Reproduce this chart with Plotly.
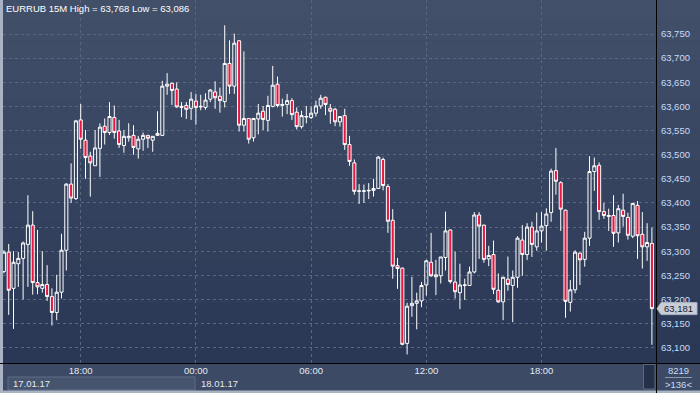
import plotly.graph_objects as go
import pandas as pd

# ---------------- data ----------------
symbol = "EURRUB"
timeframe = "15M"
start_time = "2017-01-17 14:00"
date_labels = ["17.01.17", "18.01.17"]
tick_times = ["2017-01-17 18:00", "2017-01-18 00:00", "2017-01-18 06:00",
              "2017-01-18 12:00", "2017-01-18 18:00"]
tick_text = ["18:00", "00:00", "06:00", "12:00", "18:00"]
price_ticks = list(range(63100, 63751, 50))
bar_total_label = "8219"
visible_bars_label = ">136<"

opens = [63258, 63298, 63223, 63274, 63285, 63314, 63354, 63235, 63223, 63231,
         63206, 63173, 63215, 63302, 63439, 63409, 63572, 63530, 63497, 63477,
         63513, 63559, 63546, 63577, 63549, 63519, 63535, 63540, 63512, 63532,
         63540, 63530, 63540, 63540, 63642, 63648, 63636, 63598, 63602, 63596,
         63611, 63599, 63598, 63615, 63630, 63621, 63610, 63689, 63642, 63736,
         63561, 63575, 63535, 63574, 63590, 63571, 63600, 63646, 63602, 63604,
         63612, 63588, 63558, 63578, 63577, 63586, 63601, 63619, 63596, 63594,
         63568, 63581, 63521, 63483, 63424, 63424, 63425, 63426, 63430, 63490,
         63434, 63364, 63270, 63265, 63109, 63187, 63192, 63197, 63230, 63277,
         63247, 63249, 63287, 63344, 63236, 63214, 63229, 63229, 63257, 63375,
         63354, 63284, 63293, 63219, 63195, 63242, 63229, 63246, 63323, 63293,
         63350, 63309, 63342, 63353, 63380, 63467, 63442, 63385, 63194, 63220,
         63296, 63283, 63327, 63465, 63478, 63382, 63372, 63374, 63338, 63385,
         63370, 63331, 63395, 63335, 63309, 63316]
highs = [63302, 63315, 63300, 63298, 63320, 63416, 63383, 63344, 63300, 63271,
         63223, 63251, 63336, 63441, 63482, 63572, 63605, 63551, 63506, 63551,
         63565, 63575, 63609, 63602, 63572, 63551, 63565, 63561, 63539, 63546,
         63541, 63538, 63590, 63653, 63669, 63649, 63650, 63609, 63609, 63630,
         63626, 63624, 63627, 63636, 63652, 63639, 63768, 63737, 63751, 63737,
         63714, 63576, 63576, 63605, 63601, 63622, 63684, 63662, 63616, 63626,
         63617, 63598, 63591, 63601, 63600, 63612, 63624, 63620, 63605, 63597,
         63580, 63595, 63539, 63490, 63439, 63438, 63441, 63450, 63497, 63494,
         63439, 63387, 63286, 63266, 63193, 63247, 63214, 63236, 63282, 63338,
         63282, 63288, 63382, 63345, 63299, 63274, 63243, 63268, 63381, 63381,
         63355, 63311, 63322, 63254, 63247, 63289, 63260, 63331, 63354, 63358,
         63361, 63380, 63381, 63389, 63471, 63514, 63445, 63386, 63240, 63302,
         63297, 63340, 63497, 63494, 63484, 63400, 63388, 63416, 63396, 63419,
         63380, 63400, 63404, 63381, 63358, 63349]
lows = [63254, 63168, 63139, 63226, 63200, 63226, 63210, 63211, 63214, 63197,
        63146, 63157, 63202, 63260, 63400, 63406, 63512, 63450, 63413, 63477,
        63454, 63521, 63541, 63533, 63514, 63504, 63527, 63500, 63492, 63508,
        63514, 63506, 63539, 63539, 63624, 63603, 63597, 63578, 63574, 63572,
        63562, 63592, 63593, 63609, 63595, 63587, 63598, 63626, 63626, 63548,
        63548, 63523, 63527, 63542, 63551, 63548, 63598, 63598, 63579, 63584,
        63572, 63552, 63554, 63565, 63574, 63579, 63595, 63582, 63564, 63559,
        63558, 63510, 63477, 63417, 63398, 63400, 63408, 63413, 63429, 63426,
        63338, 63243, 63222, 63105, 63086, 63164, 63138, 63184, 63208, 63247,
        63209, 63233, 63260, 63233, 63202, 63180, 63199, 63228, 63254, 63284,
        63276, 63269, 63211, 63193, 63157, 63218, 63153, 63224, 63249, 63282,
        63288, 63301, 63318, 63301, 63361, 63417, 63342, 63162, 63175, 63213,
        63230, 63268, 63311, 63425, 63365, 63367, 63342, 63309, 63318, 63351,
        63324, 63327, 63284, 63264, 63280, 63106]
closes = [63298, 63219, 63277, 63285, 63317, 63354, 63235, 63226, 63231, 63206,
          63173, 63215, 63302, 63439, 63410, 63570, 63532, 63494, 63483, 63514,
          63557, 63546, 63579, 63546, 63521, 63538, 63538, 63515, 63532, 63540,
          63534, 63538, 63544, 63642, 63646, 63633, 63599, 63600, 63594, 63615,
          63598, 63600, 63613, 63634, 63618, 63612, 63689, 63642, 63731, 63561,
          63575, 63532, 63575, 63586, 63573, 63602, 63644, 63602, 63604, 63612,
          63583, 63558, 63581, 63579, 63586, 63601, 63617, 63604, 63590, 63568,
          63579, 63521, 63486, 63424, 63425, 63425, 63426, 63430, 63495, 63436,
          63362, 63269, 63264, 63107, 63186, 63192, 63197, 63229, 63280, 63249,
          63251, 63288, 63342, 63237, 63216, 63230, 63230, 63257, 63375, 63352,
          63283, 63291, 63221, 63195, 63246, 63231, 63246, 63327, 63293, 63350,
          63314, 63342, 63352, 63377, 63466, 63445, 63387, 63196, 63220, 63298,
          63282, 63327, 63465, 63477, 63382, 63374, 63374, 63337, 63388, 63372,
          63333, 63399, 63332, 63309, 63318, 63181]

times = pd.date_range(start_time, periods=len(opens), freq="15min")

# ---------------- geometry helpers (layout only) ----------------
W, H = 700, 393
ML, MR, MT, MB = 3, 44, 0, 30
PW = W - ML - MR
PH = H - MT - MB


def xp(px):
    return (px - ML) / PW


def yp(py):
    return (MT + PH - py) / PH


def fmt(v):
    return f"{v:,}"


FONT = "Liberation Sans, Arial, sans-serif"
shapes = []

# stepped vertical gradient background
top_c = (66, 80, 106)
bot_c = (41, 55, 85)
nb = 18
for i in range(nb):
    t = (i + 0.5) / nb
    c = tuple(round(top_c[k] + (bot_c[k] - top_c[k]) * t) for k in range(3))
    shapes.append(dict(type="rect", xref="paper", yref="paper",
                       x0=xp(0), x1=xp(W), y0=yp((i + 1) * PH / nb), y1=yp(i * PH / nb),
                       fillcolor=f"rgb{c}", line_width=0, layer="below"))
# bottom time panel
shapes.append(dict(type="rect", xref="paper", yref="paper", x0=xp(0), x1=xp(W),
                   y0=yp(H), y1=yp(PH), fillcolor="#3c4a65", line_width=0, layer="below"))
# date box
shapes.append(dict(type="rect", xref="paper", yref="paper", x0=xp(8), x1=xp(195),
                   y0=yp(390), y1=yp(377), fillcolor="#46546e",
                   line=dict(color="#5f6d86", width=1), layer="below"))
# scroll thumb
shapes.append(dict(type="rect", xref="paper", yref="paper", x0=xp(643.5), x1=xp(655),
                   y0=yp(389), y1=yp(364.5), fillcolor="#243149",
                   line=dict(color="#5a6880", width=1), layer="below"))
# frame strips
shapes.append(dict(type="rect", xref="paper", yref="paper", x0=xp(0), x1=xp(3),
                   y0=yp(H), y1=yp(0), fillcolor="#a9b3c4", line_width=0, layer="above"))
shapes.append(dict(type="rect", xref="paper", yref="paper", x0=xp(0), x1=xp(W),
                   y0=yp(H), y1=yp(390.5), fillcolor="#a9b3c4", line_width=0, layer="above"))
# black axis lines
shapes.append(dict(type="line", xref="paper", yref="paper", x0=xp(0), x1=xp(W),
                   y0=yp(363.5), y1=yp(363.5), line=dict(color="#000000", width=1), layer="above"))
shapes.append(dict(type="line", xref="paper", yref="paper", x0=xp(656.5), x1=xp(656.5),
                   y0=yp(H), y1=yp(0), line=dict(color="#000000", width=1), layer="above"))
# underline under bar count
shapes.append(dict(type="line", xref="paper", yref="paper", x0=xp(665), x1=xp(692),
                   y0=yp(377.5), y1=yp(377.5), line=dict(color="#8a97ad", width=1), layer="above"))

# last price tag
last = closes[-1]
u = 50 / 24.13  # price units per pixel
tag_path = (f"M {xp(657)},{last} L {xp(661)},{last + 6 * u} L {xp(697)},{last + 6 * u} "
            f"L {xp(697)},{last - 6 * u} L {xp(661)},{last - 6 * u} Z")
shapes.append(dict(type="path", xref="paper", yref="y", path=tag_path,
                   fillcolor="#c8cdd6", line=dict(color="#aab2c0", width=1), layer="above"))

annotations = [
    dict(text=f"{symbol} {timeframe} High = {fmt(max(highs))} Low = {fmt(min(lows))}",
         xref="paper", yref="paper", x=xp(4), y=yp(8), xanchor="left", yanchor="middle",
         showarrow=False, font=dict(family=FONT, size=9.5, color="#ffffff")),
    dict(text=date_labels[0], xref="paper", yref="paper", x=xp(11), y=yp(383.5),
         xanchor="left", yanchor="middle", showarrow=False,
         font=dict(family=FONT, size=9.5, color="#e4e9f0")),
    dict(text=date_labels[1], xref="paper", yref="paper", x=xp(199), y=yp(383.5),
         xanchor="left", yanchor="middle", showarrow=False,
         font=dict(family=FONT, size=9.5, color="#e4e9f0")),
    dict(text=bar_total_label, xref="paper", yref="paper", x=xp(678.5), y=yp(370.5),
         xanchor="center", yanchor="middle", showarrow=False,
         font=dict(family=FONT, size=9.5, color="#c8dcf8")),
    dict(text=visible_bars_label, xref="paper", yref="paper", x=xp(678.5), y=yp(384.5),
         xanchor="center", yanchor="middle", showarrow=False,
         font=dict(family=FONT, size=9.5, color="#c8dcf8")),
    dict(text=fmt(last), xref="paper", yref="y", x=xp(678.5), y=last,
         xanchor="center", yanchor="middle", showarrow=False,
         font=dict(family=FONT, size=9.5, color="#18202e")),
]

fig = go.Figure(go.Candlestick(
    x=times, open=opens, high=highs, low=lows, close=closes,
    increasing=dict(line=dict(color="#ffffff", width=1), fillcolor="rgba(0,0,0,0)"),
    decreasing=dict(line=dict(color="#ffffff", width=1), fillcolor="#e8173f"),
    whiskerwidth=0, hoverinfo="skip", showlegend=False,
))

fig.update_layout(
    width=W, height=H,
    margin=dict(l=ML, r=MR, t=MT, b=MB, pad=0),
    paper_bgcolor="#33415e", plot_bgcolor="rgba(0,0,0,0)",
    boxgap=0.36, boxgroupgap=0,
    shapes=shapes, annotations=annotations,
    font=dict(family=FONT, size=9.5, color="#e4e9f0"),
    xaxis=dict(
        type="date", range=["2017-01-17 13:57:09", "2017-01-18 23:57:45"],
        tickvals=tick_times, ticktext=tick_text,
        showgrid=True, gridcolor="#5a6780", griddash="3px,3px", gridwidth=1,
        showline=False, zeroline=False, ticks="",
        tickfont=dict(family=FONT, size=9.5, color="#e4e9f0"),
        rangeslider=dict(visible=False), fixedrange=True,
    ),
    yaxis=dict(
        side="right", range=[63068.3, 63820.5],
        tickvals=price_ticks, tickformat=",d",
        showgrid=True, gridcolor="#5a6780", griddash="3px,3px", gridwidth=1,
        showline=False, zeroline=False, ticks="outside", ticklen=2,
        tickcolor="rgba(0,0,0,0)",
        tickfont=dict(family=FONT, size=9.5, color="#c8dcf8"), fixedrange=True,
    ),
)

fig.write_html("out.html", config={"displayModeBar": False},
               post_script="document.body.style.margin='0';document.body.style.padding='0';")
